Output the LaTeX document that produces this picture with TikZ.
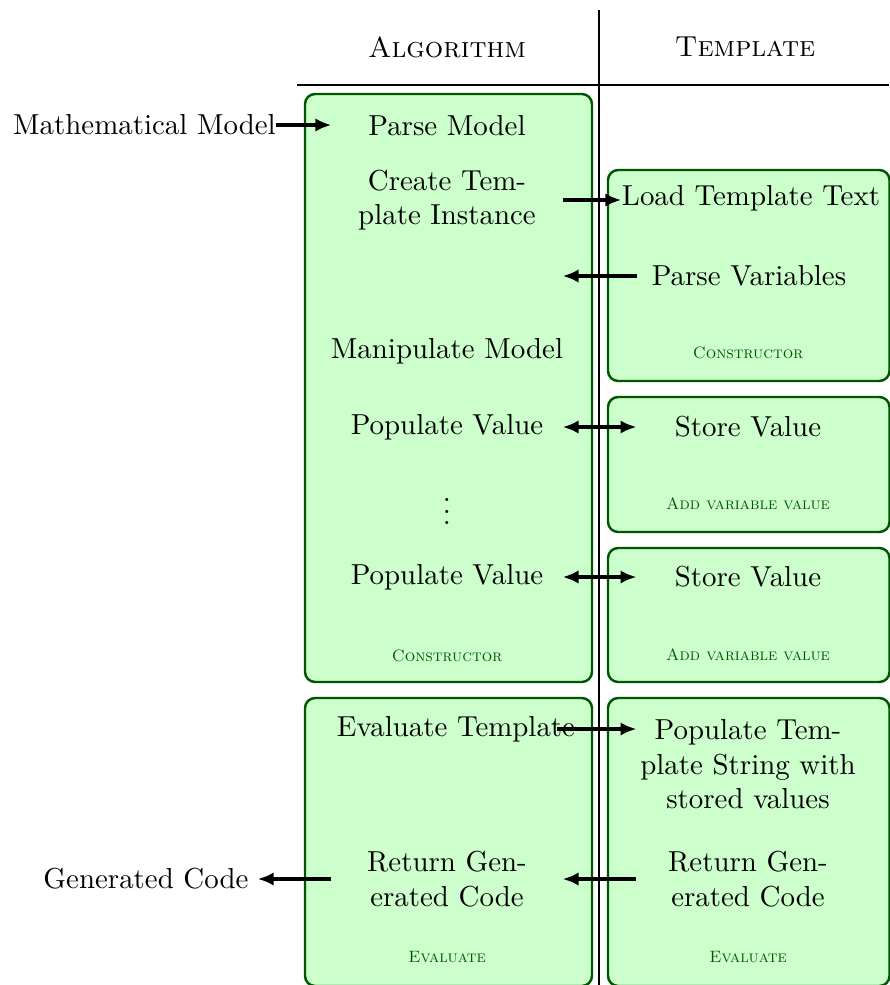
\documentclass[tikz,border=0pt]{standalone}
\usetikzlibrary{arrows.meta}
\definecolor{boxline}{RGB}{0,85,0}
\definecolor{boxfill}{RGB}{204,255,204}
\begin{document}
\begin{tikzpicture}[x=0.346pt,y=-0.346pt,
  boxshape/.style={draw=boxline,fill=boxfill,line width=0.85pt,rounded corners=3.5pt},
  lefttxt/.style={inner xsep=0pt,inner ysep=2pt,minimum width=79.6pt,align=center},
  righttxt/.style={inner xsep=0pt,inner ysep=2pt,minimum width=76.8pt,align=center},
  lbl/.style={font=\fontsize{5.7}{7}\selectfont\scshape,text=boxline},
  arr/.style={line width=1.1pt,-{Latex[length=5.5pt,width=4.6pt]}},
  darr/.style={line width=1.1pt,{Latex[length=5.5pt,width=4.6pt]}-{Latex[length=5.5pt,width=4.6pt]}}]
\useasboundingbox (0,0) rectangle (889,985);
% rules
\draw[line width=0.4pt] (599,10) -- (599,990);
\draw[line width=0.4pt] (297,85) -- (889,85);
\node (hA) at (447,47) {\textsc{Algorithm}};
\node (hT) at (745,47) {\textsc{Template}};
% boxes
\draw[boxshape] (305,94) rectangle (592,682);
\draw[boxshape] (305,698) rectangle (592,986);
\draw[boxshape] (608,170) rectangle (889.5,381);
\draw[boxshape] (608,397) rectangle (889.5,532);
\draw[boxshape] (608,548) rectangle (889.5,682);
\draw[boxshape] (608,698) rectangle (889.5,986);
% left column
\node[lefttxt] (pm) at (447,126) {Parse Model};
\node[lefttxt] (cti) at (447,200) {Create Tem-\\plate Instance};
\node[lefttxt] (mm) at (447,351) {Manipulate Model};
\node[lefttxt] (pv1) at (447,427) {Populate Value};
\node (dots) at (447,503) {$\vdots$};
\node[lefttxt] (pv2) at (447,577) {Populate Value};
\node[lbl] (lc) at (447,656) {Constructor};
\node[inner sep=0pt] (evt) at (456,729) {Evaluate Template};
\node[lefttxt] (rgl) at (447,879) {Return Gen-\\erated Code};
\node[lbl] (le) at (447,957) {Evaluate};
% right column
\node[righttxt] (ltt) at (751,198) {Load Template Text};
\node[righttxt] (pvar) at (749,276) {Parse Variables};
\node[lbl] (rc) at (748,353) {Constructor};
\node[righttxt] (sv1) at (748,427) {Store Value};
\node[lbl] (ra1) at (748,504) {Add variable value};
\node[righttxt] (sv2) at (748,577) {Store Value};
\node[lbl] (ra2) at (748,655) {Add variable value};
\node[righttxt,anchor=north] (pts) at (748,713) {Populate Tem-\\plate String with\\stored values};
\node[righttxt] (rgr) at (748,879) {Return Gen-\\erated Code};
\node[lbl] (re) at (748,957) {Evaluate};
% outside
\node[inner sep=0pt] (mmod) at (144.5,125) {Mathematical Model};
\node[inner xsep=3pt] (gc) at (146,879) {Generated Code};
% arrows
\draw[arr] (mmod.east) -- (mmod.east -| pm.west);
\draw[arr] (cti.east) -- (cti.east -| ltt.west);
\draw[arr] (pvar.west) -- (pvar.west -| cti.east);
\draw[darr] (pv1.east) -- (sv1.west);
\draw[darr] (pv2.east) -- (sv2.west);
\draw[arr] ([xshift=-6.5pt]evt.east) -- (evt.east -| pts.west);
\draw[arr] (rgr.west) -- (rgl.east);
\draw[arr] (rgl.west) -- (rgl.west -| gc.east);
\end{tikzpicture}
\end{document}
